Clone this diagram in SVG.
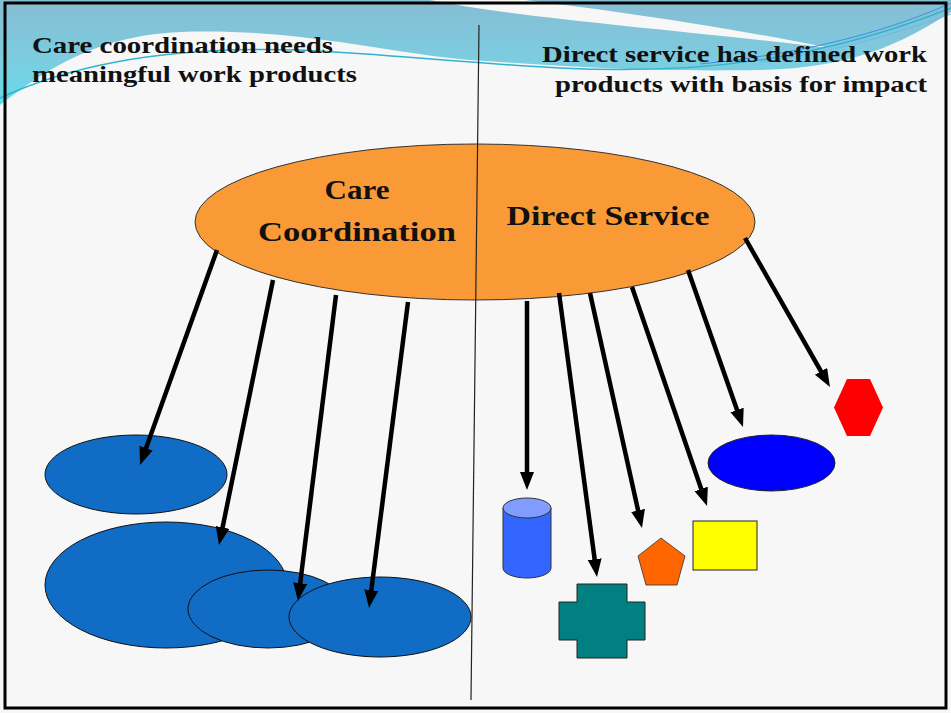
<svg xmlns="http://www.w3.org/2000/svg" width="951" height="713" viewBox="0 0 951 713">
<defs>
<linearGradient id="bandGrad" x1="0" y1="0" x2="0" y2="1">
<stop offset="0" stop-color="#86bdd4"/>
<stop offset="0.6" stop-color="#7ccde0"/>
<stop offset="1" stop-color="#5fdcea"/>
</linearGradient>
<marker id="arrow" markerUnits="userSpaceOnUse" markerWidth="20" markerHeight="16" refX="8" refY="7" orient="auto">
<path d="M0,0 L18,7 L0,14 Z" fill="#000"/>
</marker>
<style>
.hdr{font-family:"Liberation Serif","DejaVu Serif",serif;font-weight:bold;font-size:24px;fill:#111;}
.lbl{font-family:"Liberation Serif","DejaVu Serif",serif;font-weight:bold;font-size:28px;fill:#111;text-anchor:middle;}
.conn line{stroke:#000;stroke-width:4.5;marker-end:url(#arrow);}
.blob{fill:#106cc4;stroke:#111;stroke-width:1;}
</style>
</defs>
<rect x="0" y="0" width="951" height="713" fill="#f7f7f7"/>
<g id="background-wave">
<path d="M0,0 H951 V12 C900,45 850,68 760,70 C640,72 560,66 470,60 C380,52 300,28 180,32 C90,36 40,75 0,105 Z" fill="url(#bandGrad)"/>
<path d="M430,0 C520,18 660,28 830,48 C700,22 590,8 525,0 Z" fill="#f7f7f7"/>
<path d="M0,98 C60,70 150,45 300,50 C400,55 450,62 560,68 C700,75 820,60 951,8" fill="none" stroke="#2fb3cf" stroke-width="1.5"/>
<path d="M700,64 C820,52 900,26 951,3" fill="none" stroke="#3f8fdf" stroke-width="1"/>
<path d="M760,62 C850,50 910,28 951,14" fill="none" stroke="#6fb8e8" stroke-width="1"/>
</g>
<rect x="5" y="3" width="941" height="705" fill="none" stroke="#000" stroke-width="3"/>
<g id="header-left">
<text class="hdr" x="32" y="53" textLength="301" lengthAdjust="spacingAndGlyphs">Care coordination needs</text>
<text class="hdr" x="32" y="82" textLength="325" lengthAdjust="spacingAndGlyphs">meaningful work products</text>
</g>
<g id="header-right">
<text class="hdr" x="542" y="62" textLength="385" lengthAdjust="spacingAndGlyphs">Direct service has defined work</text>
<text class="hdr" x="555" y="92" textLength="372" lengthAdjust="spacingAndGlyphs">products with basis for impact</text>
</g>
<g id="main-ellipse">
<ellipse cx="475" cy="222" rx="280" ry="78" fill="#fa9a36" stroke="#333" stroke-width="1"/>
</g>
<g id="divider">
<line x1="479" y1="25" x2="471" y2="700" stroke="#222" stroke-width="1.2"/>
</g>
<g id="label-care">
<text class="lbl" x="357" y="199" textLength="65" lengthAdjust="spacingAndGlyphs">Care</text>
<text class="lbl" x="357" y="241" textLength="198" lengthAdjust="spacingAndGlyphs">Coordination</text>
</g>
<g id="label-direct">
<text class="lbl" x="608" y="225" textLength="203" lengthAdjust="spacingAndGlyphs">Direct Service</text>
</g>
<g id="cc-product-1"><ellipse class="blob" cx="136" cy="474.5" rx="91" ry="39.5"/></g>
<g id="cc-product-2"><ellipse class="blob" cx="166" cy="585" rx="121" ry="63"/></g>
<g id="cc-product-3"><ellipse class="blob" cx="268" cy="609" rx="80" ry="39"/></g>
<g id="cc-product-4"><ellipse class="blob" cx="380" cy="617" rx="91" ry="40"/></g>
<g id="ds-cylinder">
<path d="M503,508 V568 A24,10 0 0 0 551,568 V508 Z" fill="#3366ff" stroke="#333" stroke-width="1"/>
<ellipse cx="527" cy="508" rx="24" ry="10" fill="#809cff" stroke="#333" stroke-width="1"/>
</g>
<g id="ds-cross">
<path d="M577,584 H627 V602 H645 V640 H627 V658 H577 V640 H559 V602 H577 Z" fill="#008080" stroke="#222" stroke-width="1"/>
</g>
<g id="ds-pentagon">
<path d="M661,538 L685,556 L677,585 L646,585 L638,556 Z" fill="#ff6600" stroke="#333" stroke-width="0.8"/>
</g>
<g id="ds-rectangle">
<rect x="693" y="521" width="64" height="49" fill="#ffff00" stroke="#222" stroke-width="1"/>
</g>
<g id="ds-ellipse">
<ellipse cx="771.5" cy="463" rx="63.5" ry="28" fill="#0000ff" stroke="#222" stroke-width="1"/>
</g>
<g id="ds-hexagon">
<path d="M847,379 L870,379 L883,407.5 L870,436 L847,436 L834,407.5 Z" fill="#ff0000"/>
</g>
<g id="connectors" class="conn">
<line x1="217" y1="250" x2="143.4" y2="455.6"/>
<line x1="273" y1="280" x2="221" y2="535.2"/>
<line x1="336" y1="295" x2="299.2" y2="591.1"/>
<line x1="408" y1="302" x2="370.3" y2="598.1"/>
<line x1="527" y1="301" x2="527" y2="480"/>
<line x1="559" y1="293" x2="595.7" y2="567.1"/>
<line x1="590" y1="293" x2="639.8" y2="518.2"/>
<line x1="632" y1="287" x2="703.8" y2="496.5"/>
<line x1="688" y1="270" x2="739.7" y2="417.6"/>
<line x1="745" y1="238" x2="825" y2="378.3"/>
</g>
</svg>
